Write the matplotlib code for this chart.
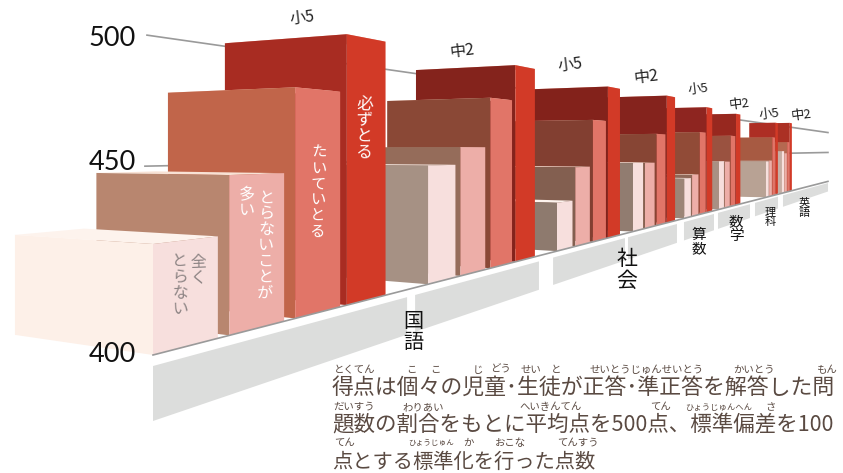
import matplotlib
matplotlib.use('Agg')
import matplotlib.pyplot as plt
from matplotlib.patches import Polygon

plt.rcParams['font.family'] = ['Noto Sans CJK JP', 'DejaVu Sans']

# scores, one list per response, one value per group
grades = ['小5', '中2', '小5', '中2', '小5', '中2', '小5', '中2']
never = [420, 447, 415, 443.5, 423, 441, 437, 454]
rarely = [445.5, 458, 442, 443, 426.5, 440, 438, 450]
usually = [485.5, 491, 482, 473, 478, 476, 478, 471]
always = [515, 516, 513, 515, 510, 508, 504, 508]
responses = [never, rarely, usually, always]
yticks = [400, 450, 500]
subjects = ['国語', '社会', '算数', '数学', '理科', '英語']

# depth along the floor of each group, and group widths in the same unit
group_depth = [0, 0.527, 1.028, 1.514, 2.0, 2.45, 3.33, 3.74]
group_width = [0.412, 0.393, 0.387, 0.385, 0.352, 0.352, 0.3, 0.3]
bar_starts = [0, 0.257, 0.527, 0.78]
bar_ends = [0.215, 0.478, 0.745, 1]
always_side = [0.11, 0.11, 0.11, 0.11, 0.11, 0.11, 0.06, 0.06]
band_depth = [(0, 0.468), (0.49, 0.939), (1.008, 1.452), (1.475, 1.919),
              (1.996, 2.377), (2.435, 2.985), (3.087, 3.634), (3.772, 5.533)]

side_colors = ['#F7DFDD', '#EDAEA8', '#E17568', '#D23A27']
top_colors = ['#FDF3ED', '#F8E2D5', '#F3C9B8', '#E8A090']
face_colors = [
    ['#FDF0E8', '#B8866F', '#C1654A', '#A82C22'],
    ['#A69184', '#956C5A', '#8A4836', '#84231C'],
    ['#8E7A6E', '#835F50', '#823F31', '#83221B'],
    ['#917C70', '#866050', '#874534', '#85231D'],
    ['#9C8577', '#8E6858', '#914B37', '#8E2520'],
    ['#A99083', '#9A7060', '#9A5240', '#97281F'],
    ['#B8A294', '#A88070', '#A75A42', '#AD2E24'],
    ['#C5AFA5', '#C09080', '#B56850', '#AB3024'],
]


def height(score):
    return 189 + (score - 450) * 2.6


# two point perspective, d runs along the floor line, e away to the left
def project(d, e, h):
    w = 1 + d + e
    return ((153 + d * 950 - e * 1240) / w, (355 + d * 150 + e * 152 - h) / w)


fig = plt.figure(figsize=(8.43, 4.73), dpi=100)
ax = fig.add_axes([0, 0, 1, 1])
ax.set_xlim(0, 843)
ax.set_ylim(473, 0)
ax.axis('off')

# grid lines behind the bars
for tick, start in zip(yticks[1:], [-0.01, -0.0075]):
    p0 = project(start, 0, height(tick))
    p1 = project(5.53, 0, height(tick))
    ax.plot([p0[0], p1[0]], [p0[1], p1[1]], color='#9A9A9A', lw=1.2, zorder=1)

# subject bands under the floor
for d0, d1 in band_depth:
    pts = [project(d0, 0, -11), project(d1, 0, -11), project(d1, 0, -66), project(d0, 0, -66)]
    ax.add_patch(Polygon(pts, closed=True, fc='#DCDDDC', ec='none', zorder=1))

# far groups first, tallest bar first inside a group
z = 2
for g in reversed(range(len(grades))):
    for r in reversed(range(4)):
        h = height(responses[r][g])
        d0 = group_depth[g] + bar_starts[r] * group_width[g]
        d1 = group_depth[g] + bar_ends[r] * group_width[g]
        e = always_side[g] if r == 3 else 0.11
        face = [project(d0, 0, 0), project(d0, e, 0), project(d0, e, h), project(d0, 0, h)]
        top = [project(d0, 0, h), project(d1, 0, h), project(d1, e, h), project(d0, e, h)]
        side = [project(d0, 0, 0), project(d1, 0, 0), project(d1, 0, h), project(d0, 0, h)]
        ax.add_patch(Polygon(top, closed=True, fc=top_colors[r], ec='none', zorder=z))
        ax.add_patch(Polygon(face, closed=True, fc=face_colors[g][r], ec='none', zorder=z))
        ax.add_patch(Polygon(side, closed=True, fc=side_colors[r], ec='none', zorder=z))
        z += 1

p0 = project(0, 0, 0)
p1 = project(5.53, 0, 0)
ax.plot([p0[0], p1[0]], [p0[1], p1[1]], color='#9A9A9A', lw=1.2, zorder=z)
z += 1

# y axis numbers
for tick, y in zip(yticks, [354, 162, 39]):
    ax.text(136, y, str(tick), family=['Lato', 'DejaVu Sans'], fontsize=19.5, color='#111111',
            ha='right', va='center', zorder=z)

# grade labels above the bars
grade_x = [302, 462, 570, 646, 698, 739, 769, 801]
grade_y = [18, 51, 65, 77, 89, 104, 114, 115]
grade_size = [11.5, 11.5, 11.5, 11.5, 9.5, 9.5, 9.5, 9.5]
for g, label in enumerate(grades):
    ax.text(grade_x[g], grade_y[g], label, fontsize=grade_size[g], rotation=7, color='#222222',
            ha='center', va='center', zorder=z)

# subject labels, written top to bottom
sub_x = [413, 627, 699, 736, 770, 804]
sub_y = [332, 270, 242, 229, 217, 208]
sub_size = [14.5, 15, 10.5, 10.5, 8, 8]
for s, name in enumerate(subjects):
    ax.text(sub_x[s], sub_y[s], '\n'.join(name), fontsize=sub_size[s], color='#111111',
            ha='center', va='center', linespacing=1.0, zorder=z)

# response labels on the side faces
ax.text(364, 129, '\n'.join('必ずとる'), fontsize=12, color='white', rotation=-2,
        ha='center', va='center', linespacing=0.92, zorder=z)
ax.text(318, 192, '\n'.join('たいていとる'), fontsize=11, color='white', rotation=-1,
        ha='center', va='center', linespacing=0.92, zorder=z)
ax.text(266, 246, '\n'.join('とらないことが'), fontsize=11.5, color='white', rotation=-1,
        ha='center', va='center', linespacing=0.92, zorder=z)
ax.text(247, 203, '\n'.join('多い'), fontsize=11.5, color='white', rotation=-1,
        ha='center', va='center', linespacing=0.92, zorder=z)
ax.text(198, 270, '\n'.join('全く'), fontsize=11.5, color='#8D8484', rotation=2,
        ha='center', va='center', linespacing=0.92, zorder=z)
ax.text(180, 285, '\n'.join('とらない'), fontsize=11.5, color='#8D8484', rotation=2,
        ha='center', va='center', linespacing=0.92, zorder=z)

# note below the chart
note = ['得点は個々の児童･生徒が正答･準正答を解答した問',
        '題数の割合をもとに平均点を500点、標準偏差を100',
        '点とする標準化を行った点数']
note_y = [388, 425, 462]
note_size = [15.75, 15.5, 14.6]
for line, y, size in zip(note, note_y, note_size):
    ax.text(332, y, line, fontsize=size, color='#5A4A42', ha='left', va='center', zorder=z)

ruby = [('とくてん', 334, 370, 7.5), ('こ', 406, 370, 7.5), ('こ', 430, 370, 7.5), ('じ', 473, 370, 7.5),
        ('どう', 490, 370, 7.5), ('せい', 521, 370, 7.5), ('と', 551, 370, 7.5),
        ('せいとうじゅんせいとう', 590, 370, 7.5), ('かいとう', 733, 370, 7.5), ('もん', 816, 370, 7.5),
        ('だいすう', 333, 407, 7.5), ('わりあい', 402, 407, 7.5), ('へいきんてん', 519, 407, 7.5),
        ('てん', 650, 407, 7.5), ('ひょうじゅんへん', 685, 407, 6), ('さ', 765, 407, 7.5),
        ('てん', 334, 443, 7.5), ('ひょうじゅん', 408, 443, 5.5), ('か', 463, 443, 7.5),
        ('おこな', 495, 443, 7.5), ('てんすう', 557, 443, 7.5)]
for text, x, y, size in ruby:
    ax.text(x, y, text, fontsize=size, color='#5A4A42', ha='left', va='center', zorder=z)

fig.savefig('out.png', dpi=100)
